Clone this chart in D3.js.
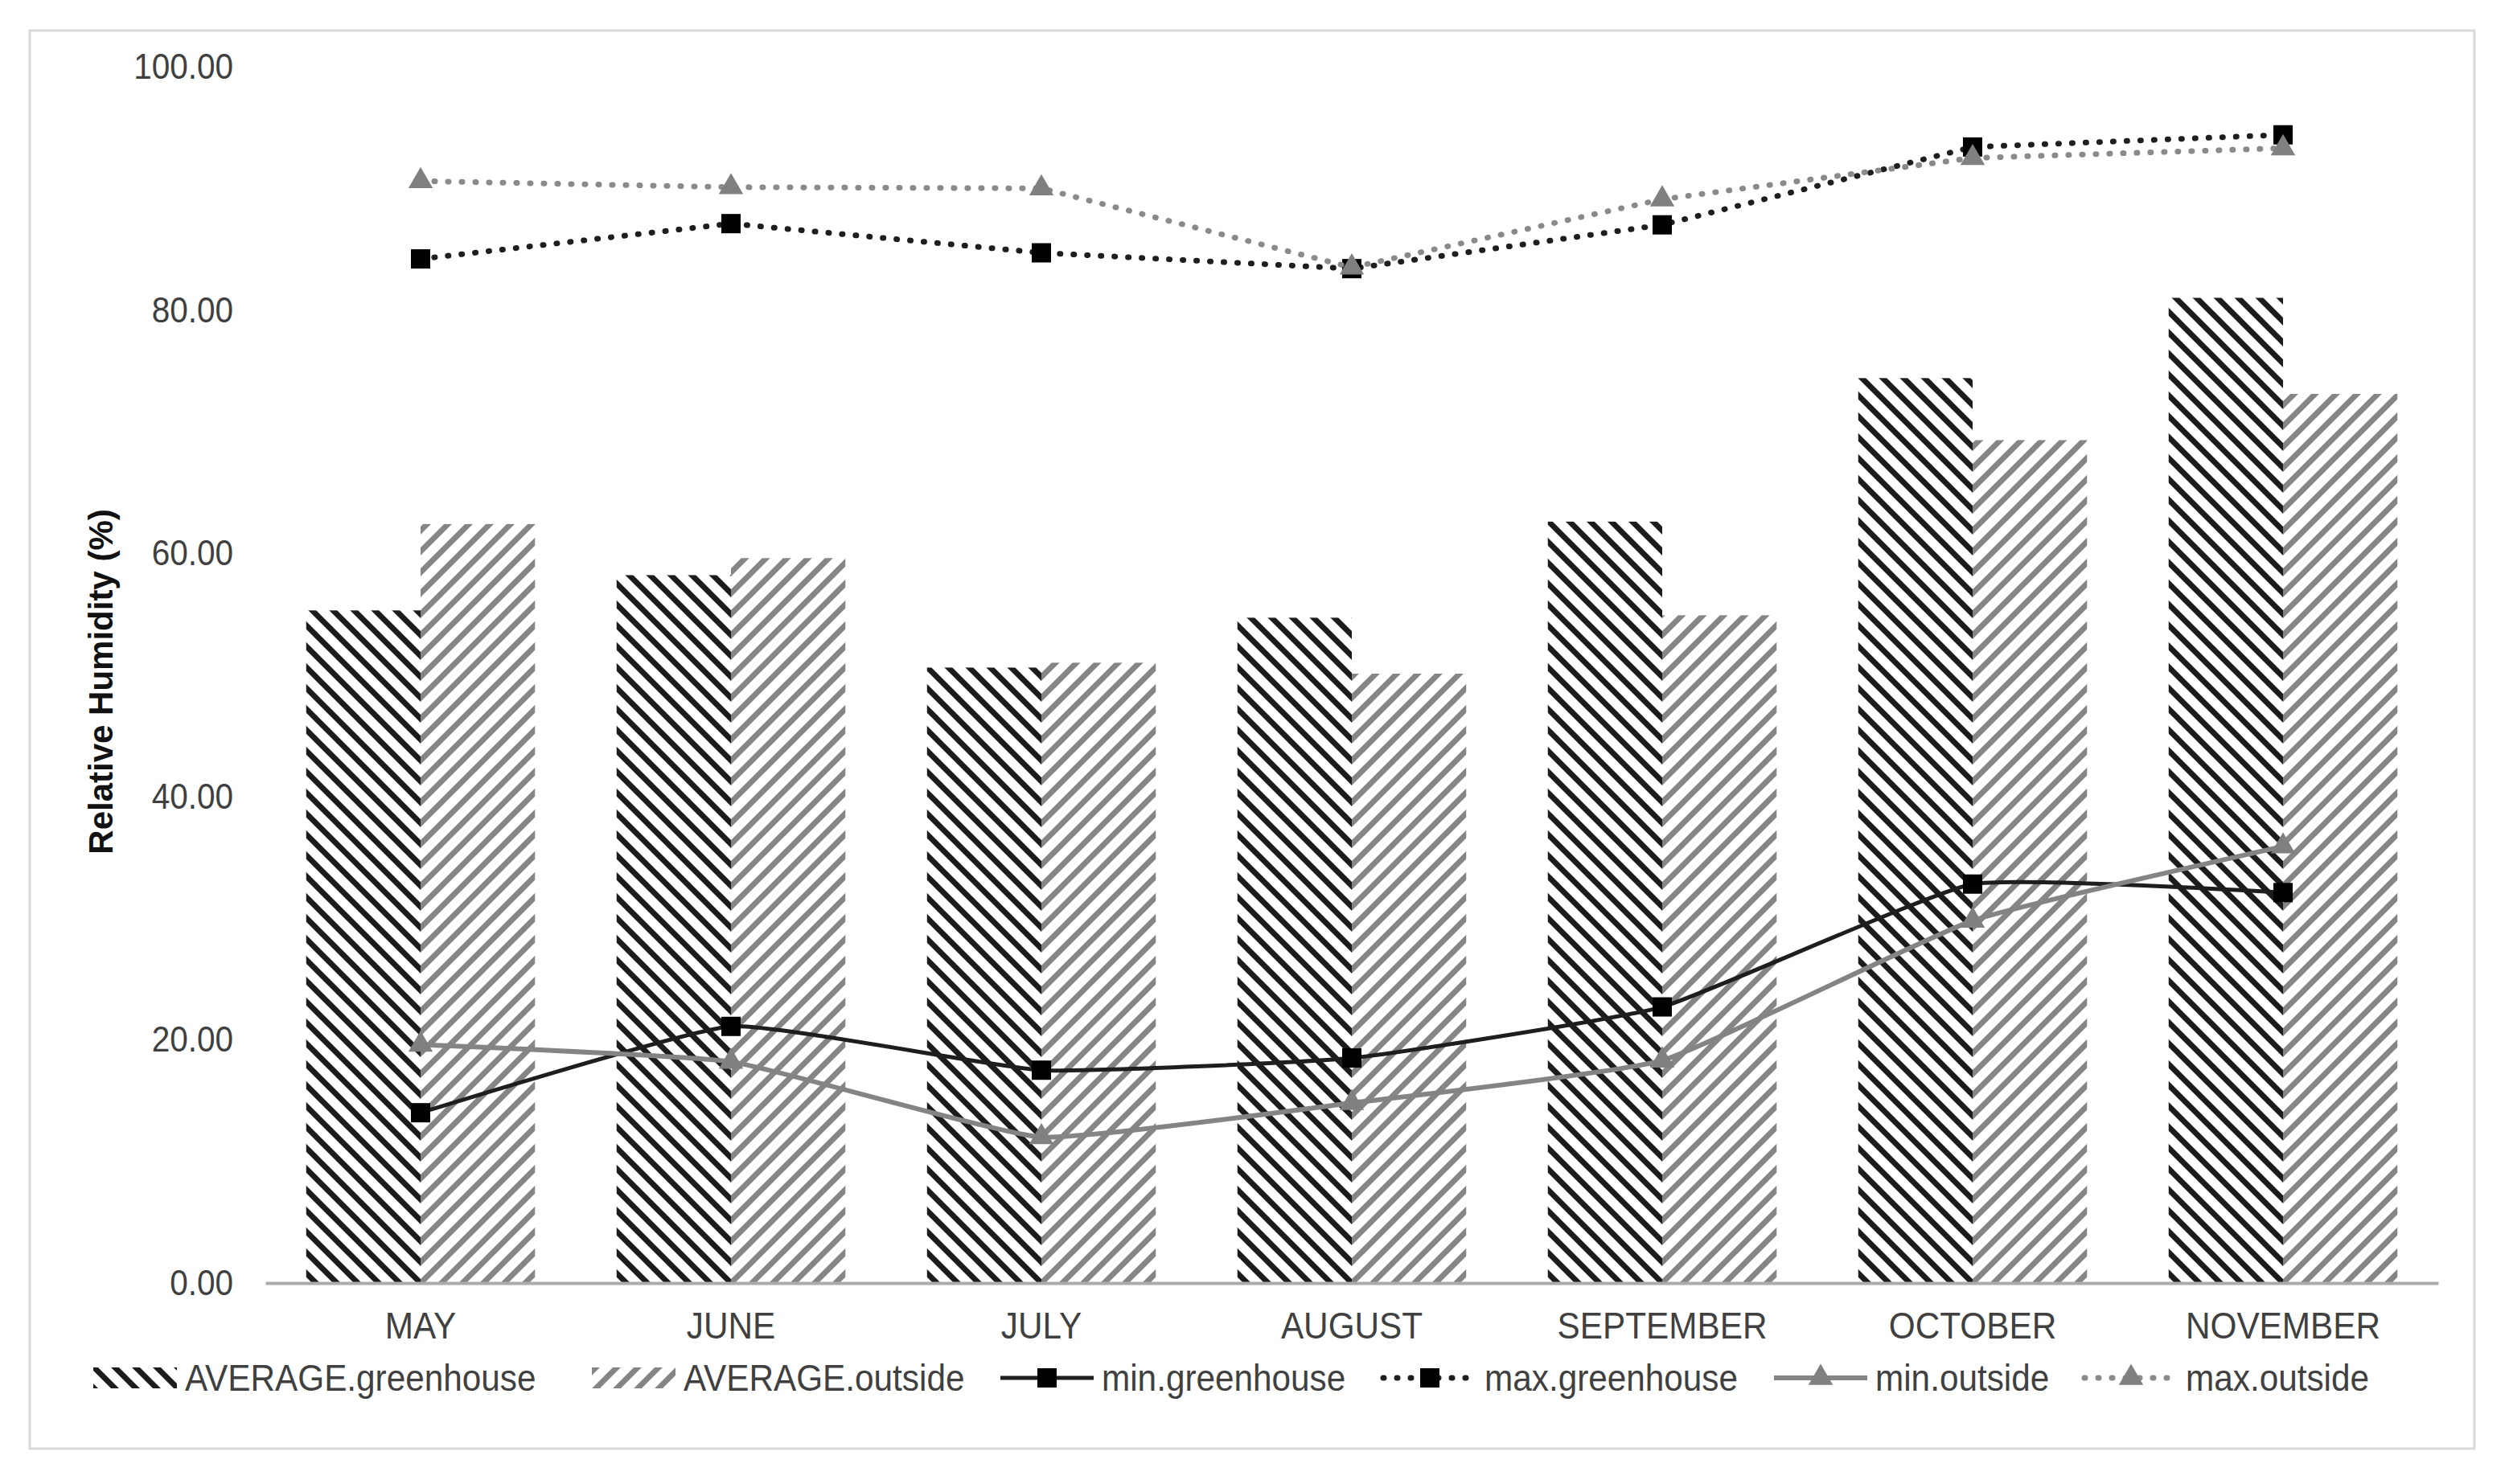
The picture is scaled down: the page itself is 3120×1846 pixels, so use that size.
<!DOCTYPE html>
<html>
<head>
<meta charset="utf-8">
<script src="https://cdnjs.cloudflare.com/ajax/libs/d3/7.8.5/d3.min.js"></script>
<style>
  html, body { margin: 0; padding: 0; background: #ffffff; }
  svg { display: block; }
</style>
</head>
<body>
<script>
// ---------------- DATA ----------------
const months = ["MAY", "JUNE", "JULY", "AUGUST", "SEPTEMBER", "OCTOBER", "NOVEMBER"];
const avgGreenhouse = [55.3, 58.2, 50.6, 54.7, 62.6, 74.4, 81.0];
const avgOutside    = [62.4, 59.6, 51.0, 50.1, 54.9, 69.3, 73.1];
const minGreenhouse = [14.0, 21.1, 17.5, 18.5, 22.7, 32.8, 32.1];
const maxGreenhouse = [84.2, 87.1, 84.7, 83.4, 87.0, 93.4, 94.4];
const minOutside    = [19.6, 18.2, 12.0, 14.8, 18.3, 29.8, 35.9];
const maxOutside    = [90.6, 90.1, 90.0, 83.5, 89.1, 92.5, 93.3];
const yTicks = [0, 20, 40, 60, 80, 100];
const yTitle = "Relative Humidity (%)";
const legendLabels = ["AVERAGE.greenhouse", "AVERAGE.outside", "min.greenhouse", "max.greenhouse", "min.outside", "max.outside"];

// ---------------- LAYOUT ----------------
const W = 3120, H = 1846;
const FONT = "'Liberation Sans', Arial, Helvetica, sans-serif";
const TEXT = "#404040";
const SX = 0.9; // horizontal condensation of text, as in the reference
const plot = { left: 330, right: 3032, top: 83, bottom: 1596 };

const svg = d3.select("body").append("svg")
  .attr("width", W).attr("height", H)
  .attr("viewBox", `0 0 ${W} ${H}`);

svg.append("rect").attr("x", 0).attr("y", 0).attr("width", W).attr("height", H).attr("fill", "#fff");
svg.append("rect")
  .attr("x", 37).attr("y", 38).attr("width", 3040).attr("height", 1764)
  .attr("fill", "none").attr("stroke", "#d9d9d9").attr("stroke-width", 3);

const x = d3.scaleBand().domain(months).range([plot.left, plot.right])
  .paddingInner(0.263).paddingOuter(0.1315);
const y = d3.scaleLinear().domain([0, 100]).range([plot.bottom, plot.top]);

// condense a text element horizontally around its own x anchor
function condense(sel) {
  sel.each(function () {
    const t = d3.select(this);
    const x0 = +t.attr("x") || 0;
    t.attr("x", x0 / SX).attr("transform", `scale(${SX},1)`);
  });
}

const defs = svg.append("defs");
const P = 26;
function makePattern(id, dir, color, tx, ty) {
  const p = defs.append("pattern")
    .attr("id", id).attr("patternUnits", "userSpaceOnUse")
    .attr("width", P).attr("height", P)
    .attr("patternTransform", `translate(${tx},${ty})`);
  const d = dir === "down"
    ? `M-8,-8L${P + 8},${P + 8} M-8,${P - 8}L8,${P + 8} M${P - 8},-8L${P + 8},8`
    : `M-8,${P + 8}L${P + 8},-8 M-8,8L8,-8 M${P - 8},${P + 8}L${P + 8},${P - 8}`;
  p.append("path").attr("d", d).attr("stroke", color).attr("stroke-width", 7).attr("fill", "none");
}
const GH_COLOR = "#1c1c1c", OUT_COLOR = "#858585";

const half = x.bandwidth() / 2;
months.forEach((m, i) => {
  const bx = x(m) + half;
  makePattern("pg" + i, "down", GH_COLOR, bx, plot.bottom);
  makePattern("po" + i, "up", OUT_COLOR, bx, plot.bottom);
});

// ---------------- BARS ----------------
const barG = svg.append("g");
barG.selectAll("rect.gh").data(months).join("rect")
  .attr("class", "gh")
  .attr("x", m => x(m))
  .attr("width", half)
  .attr("y", (m, i) => y(avgGreenhouse[i]))
  .attr("height", (m, i) => y(0) - y(avgGreenhouse[i]))
  .attr("fill", (m, i) => `url(#pg${i})`);
barG.selectAll("rect.out").data(months).join("rect")
  .attr("class", "out")
  .attr("x", m => x(m) + half)
  .attr("width", half)
  .attr("y", (m, i) => y(avgOutside[i]))
  .attr("height", (m, i) => y(0) - y(avgOutside[i]))
  .attr("fill", (m, i) => `url(#po${i})`);

// ---------------- AXES ----------------
const yAxis = svg.append("g")
  .attr("transform", `translate(${plot.left},0)`)
  .call(d3.axisLeft(y).tickValues(yTicks).tickFormat(d3.format(".2f")).tickSize(0).tickPadding(40));
yAxis.select(".domain").remove();
yAxis.selectAll("text").attr("font-family", FONT).attr("font-size", 45).attr("fill", TEXT).call(condense);

const xAxis = svg.append("g")
  .attr("transform", `translate(0,${plot.bottom})`)
  .call(d3.axisBottom(x).tickSize(0).tickPadding(36));
xAxis.select(".domain").attr("stroke", "#ababab").attr("stroke-width", 4);
xAxis.selectAll("text").attr("font-family", FONT).attr("font-size", 47).attr("fill", TEXT).call(condense);

svg.append("text")
  .attr("transform", `translate(140,848) rotate(-90)`)
  .attr("text-anchor", "middle")
  .attr("font-family", FONT).attr("font-size", 42).attr("font-weight", "bold")
  .attr("fill", "#111").text(yTitle);

// ---------------- LINES ----------------
const cx = m => x(m) + half;
const series = [
  { name: "min.greenhouse", values: minGreenhouse, color: "#1e1e1e", width: 5, dash: null, marker: d3.symbolSquare, mcolor: "#000", smooth: true },
  { name: "max.greenhouse", values: maxGreenhouse, color: "#1e1e1e", width: 7, dash: "1 16", marker: d3.symbolSquare, mcolor: "#000", smooth: false },
  { name: "min.outside", values: minOutside, color: "#848484", width: 6, dash: null, marker: d3.symbolTriangle, mcolor: "#808080", smooth: true },
  { name: "max.outside", values: maxOutside, color: "#8a8a8a", width: 7, dash: "1 16", marker: d3.symbolTriangle, mcolor: "#808080", smooth: false }
];
const markerSize = { square: 576, triangle: 400 };

series.forEach(s => {
  const line = d3.line()
    .x((v, i) => cx(months[i]))
    .y(v => y(v))
    .curve(s.smooth ? d3.curveCardinal.tension(0.6) : d3.curveLinear);
  svg.append("path")
    .attr("d", line(s.values))
    .attr("fill", "none")
    .attr("stroke", s.color)
    .attr("stroke-width", s.width)
    .attr("stroke-dasharray", s.dash)
    .attr("stroke-linecap", s.dash ? "round" : "butt");
  const sym = d3.symbol().type(s.marker)
    .size(s.marker === d3.symbolSquare ? markerSize.square : markerSize.triangle);
  svg.append("g").selectAll("path").data(s.values).join("path")
    .attr("d", sym)
    .attr("transform", (v, i) => `translate(${cx(months[i])},${y(v)})`)
    .attr("fill", s.mcolor);
});

// ---------------- LEGEND ----------------
const legY = 1714;
const legStarts = [116, 736, 1244, 1720, 2206, 2592];
const legG = svg.append("g");
makePattern("lpg", "down", GH_COLOR, 0, legY);
makePattern("lpo", "up", OUT_COLOR, 0, legY);

legendLabels.forEach((lab, i) => {
  const sx = legStarts[i];
  let sw;
  if (i < 2) {
    sw = 104;
    legG.append("rect").attr("x", sx).attr("y", legY - 13).attr("width", sw).attr("height", 26)
      .attr("fill", i === 0 ? "url(#lpg)" : "url(#lpo)");
  } else {
    const s = series[i - 2];
    sw = 116;
    legG.append("line").attr("x1", sx).attr("x2", sx + sw).attr("y1", legY).attr("y2", legY)
      .attr("stroke", s.color).attr("stroke-width", s.width)
      .attr("stroke-dasharray", s.dash).attr("stroke-linecap", s.dash ? "round" : "butt");
    legG.append("path")
      .attr("d", d3.symbol().type(s.marker).size(s.marker === d3.symbolSquare ? markerSize.square : markerSize.triangle))
      .attr("transform", `translate(${sx + sw / 2},${legY})`)
      .attr("fill", s.mcolor);
  }
  legG.append("text").attr("x", sx + sw + 10).attr("y", legY).attr("dy", "0.35em")
    .attr("font-family", FONT).attr("font-size", 47).attr("fill", TEXT).text(lab)
    .call(condense);
});
</script>
</body>
</html>
